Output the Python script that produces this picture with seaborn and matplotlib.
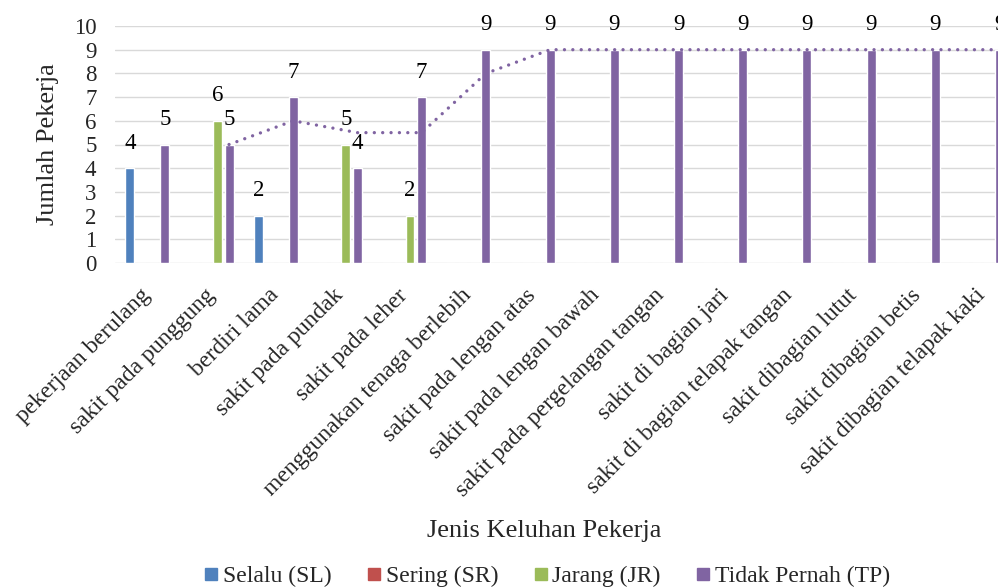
import numpy as np
import pandas as pd
import seaborn as sns
import matplotlib.pyplot as plt
from matplotlib.lines import Line2D

# Keluhan pekerja per kategori
categories = [
    "pekerjaan berulang", "sakit pada punggung", "berdiri lama",
    "sakit pada pundak", "sakit pada leher", "menggunakan tenaga berlebih",
    "sakit pada lengan atas", "sakit pada lengan bawah",
    "sakit pada pergelangan tangan", "sakit di bagian jari",
    "sakit di bagian telapak tangan", "sakit dibagian lutut",
    "sakit dibagian betis", "sakit dibagian telapak kaki",
]
series_names = ["Selalu (SL)", "Sering (SR)", "Jarang (JR)", "Tidak Pernah (TP)"]
selalu = [4, 0, 2, 0, 0, 0, 0, 0, 0, 0, 0, 0, 0, 0]
sering = [0, 0, 0, 0, 0, 0, 0, 0, 0, 0, 0, 0, 0, 0]
jarang = [0, 6, 0, 5, 2, 0, 0, 0, 0, 0, 0, 0, 0, 0]
tidak_pernah = [5, 5, 7, 4, 7, 9, 9, 9, 9, 9, 9, 9, 9, 9]
colors = ["#4F81BD", "#C0504D", "#9BBB59", "#8064A2"]

sns.set_style("white")
plt.rcParams["font.family"] = ["Liberation Serif", "DejaVu Serif"]

df = pd.DataFrame({
    "kategori": categories * 4,
    "seri": np.repeat(series_names, len(categories)),
    "nilai": selalu + sering + jarang + tidak_pernah,
})

fig = plt.figure(figsize=(9.98, 5.88), dpi=100)
ax = fig.add_axes([115.2 / 998, 1 - 263 / 588, 899 / 998, 237 / 588])

sns.barplot(data=df, x="kategori", y="nilai", hue="seri", order=categories,
            hue_order=series_names, palette=colors, width=0.727, gap=0.23,
            saturation=1, legend=False, ax=ax)

ax.set_ylim(0, 10)
ax.set_xlim(-0.5, len(categories) - 0.5)
ax.set_yticks(range(0, 11))
ax.yaxis.grid(True, color="#D9D9D9", linewidth=1.0)
ax.set_axisbelow(True)
for s in ax.spines.values():
    s.set_visible(False)
ax.tick_params(axis="y", length=0, pad=13.5, labelsize=16.5)
ax.tick_params(axis="x", length=0, pad=21, labelsize=17)
ax.set_xlabel("")
ax.set_ylabel("")
ax.set_xticks(range(len(categories)))
ax.set_xticklabels(categories, rotation=45, ha="right", va="center",
                   rotation_mode="anchor")

# Value labels above non-zero bars
for cont in ax.containers:
    labels = [f"{int(v)}" if v > 0 else "" for v in cont.datavalues]
    ax.bar_label(cont, labels=labels, padding=10.5, fontsize=16.5,
                 color="#000000")

# 2-period moving average of "Tidak Pernah"
tp_bars = ax.containers[3]
tp_x = [p.get_x() + p.get_width() / 2 for p in tp_bars.patches]
moving_avg = pd.Series(tidak_pernah).rolling(2).mean()
ax.plot(tp_x, moving_avg, color="#8064A2", linewidth=2.4,
        linestyle=(0, (0.01, 2.5)), dash_capstyle="round", clip_on=False)

fig.text(48.5 / 998, 1 - 144 / 588, "Jumlah Pekerja", rotation=90,
         ha="center", va="center", fontsize=19)
fig.text(544 / 998, 1 - 531 / 588, "Jenis Keluhan Pekerja",
         ha="center", va="center", fontsize=19)

handles = [Line2D([], [], marker="s", linestyle="none", markersize=8,
                  markerfacecolor=c, markeredgecolor=c) for c in colors]
fig.legend(handles, series_names, loc="center",
           bbox_to_anchor=(547 / 998, 1 - 576 / 588), ncol=4, frameon=False,
           fontsize=17, handlelength=0.6, handletextpad=0.2,
           columnspacing=1.5, borderaxespad=0)

fig.savefig("out.png", dpi=100)
